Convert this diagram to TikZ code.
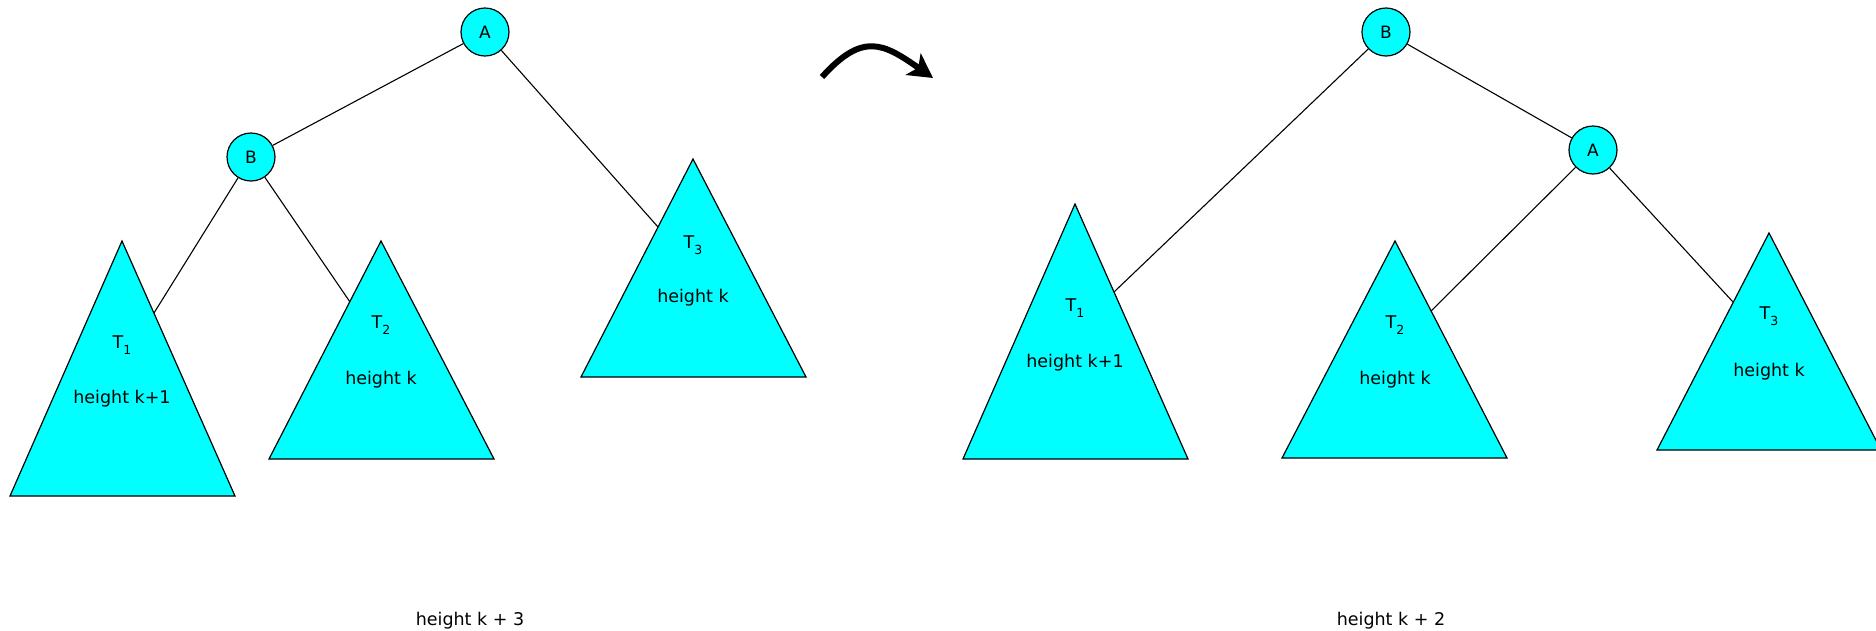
\documentclass[tikz,border=0pt]{standalone}
\usepackage{fontspec}
\setmainfont{DejaVu Sans}
\usetikzlibrary{arrows.meta,calc}
\definecolor{treefill}{RGB}{0,255,255}
\definecolor{lineclr}{RGB}{0,0,0}
\newcommand{\treesub}[1]{\raisebox{-6.5pt}{\fontsize{12.5}{14}\selectfont #1}}
\tikzset{
  knot/.style={circle,draw=lineclr,fill=treefill,line width=1.2pt,
    minimum size=48pt,inner sep=0pt,font=\fontsize{17}{20}\selectfont},
  subtree/.style={draw=lineclr,fill=treefill,line width=1.2pt,line join=miter},
  link/.style={draw=lineclr,line width=1.1pt},
  lbl/.style={font=\fontsize{17.5}{21}\selectfont,anchor=base,inner sep=0pt},
  turn/.style={-{Stealth[length=24pt,width=26pt,inset=6pt]},line width=6pt},
}

\begin{document}
\begin{tikzpicture}[x=1pt,y=-1pt]
  \useasboundingbox (0,0) rectangle (1876,630);

  % before the rotation
  \node[knot] (lA) at (485,32) {A};
  \node[knot] (lB) at (251,157) {B};
  \coordinate (lT1) at (122,241);
  \coordinate (lT2) at (381,241);
  \coordinate (lT3) at (693,159);
  \draw[subtree] (lT1) -- ++(113,255) -- ++(-225,0) -- cycle;
  \draw[subtree] (lT2) -- ++(113,218) -- ++(-225,0) -- cycle;
  \draw[subtree] (lT3) -- ++(113,218) -- ++(-225,0) -- cycle;
  \node[lbl] (lT1name) at ($(lT1)+(0,107)$) {T\treesub{1}};
  \node[lbl] (lT1ht)   at ($(lT1)+(0,162)$) {height k+1};
  \node[lbl] (lT2name) at ($(lT2)+(0,87)$)  {T\treesub{2}};
  \node[lbl] (lT2ht)   at ($(lT2)+(0,143)$) {height k};
  \node[lbl] (lT3name) at ($(lT3)+(0,89)$)  {T\treesub{3}};
  \node[lbl] (lT3ht)   at ($(lT3)+(0,143)$) {height k};
  \coordinate (lT1e) at ($(lT1)+(32,72)$);
  \coordinate (lT2e) at ($(lT2)+(-31,61)$);
  \coordinate (lT3e) at ($(lT3)+(-35,68)$);
  \draw[link] (lA) -- (lB);
  \draw[link] (lA) -- (lT3e);
  \draw[link] (lB) -- (lT1e);
  \draw[link] (lB) -- (lT2e);
  \node[lbl] (lcap) at (470,625) {height k + 3};

  % rotation arrow
  \coordinate (turnS) at (822,77);
  \coordinate (turnE) at (933,78);
  \draw[turn] (turnS) to[out=48,in=145,looseness=1.4] (turnE);

  % after the rotation
  \node[knot] (rB) at (1386,32) {B};
  \node[knot] (rA) at (1593,150) {A};
  \coordinate (rT1) at (1075,204);
  \coordinate (rT2) at (1395,241);
  \coordinate (rT3) at (1769,233);
  \draw[subtree] (rT1) -- ++(113,255) -- ++(-225,0) -- cycle;
  \draw[subtree] (rT2) -- ++(112,217) -- ++(-225,0) -- cycle;
  \draw[subtree] (rT3) -- ++(112,217) -- ++(-224,0) -- cycle;
  \node[lbl] (rT1name) at ($(rT1)+(0,107)$) {T\treesub{1}};
  \node[lbl] (rT1ht)   at ($(rT1)+(0,163)$) {height k+1};
  \node[lbl] (rT2name) at ($(rT2)+(0,87)$)  {T\treesub{2}};
  \node[lbl] (rT2ht)   at ($(rT2)+(0,143)$) {height k};
  \node[lbl] (rT3name) at ($(rT3)+(0,86)$)  {T\treesub{3}};
  \node[lbl] (rT3ht)   at ($(rT3)+(0,143)$) {height k};
  \coordinate (rT1e) at ($(rT1)+(39,88)$);
  \coordinate (rT2e) at ($(rT2)+(36,70)$);
  \coordinate (rT3e) at ($(rT3)+(-36,69)$);
  \draw[link] (rB) -- (rA);
  \draw[link] (rB) -- (rT1e);
  \draw[link] (rA) -- (rT2e);
  \draw[link] (rA) -- (rT3e);
  \node[lbl] (rcap) at (1391,625) {height k + 2};

\end{tikzpicture}
\end{document}
